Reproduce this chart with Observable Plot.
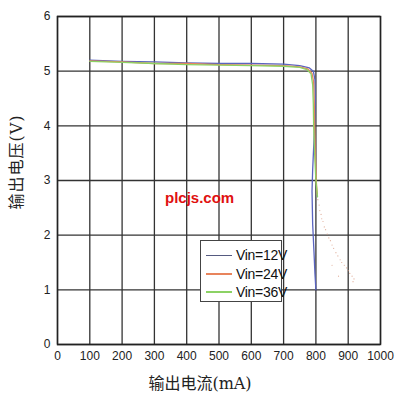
<!DOCTYPE html>
<html><head><meta charset="utf-8">
<script src="https://cdn.jsdelivr.net/npm/d3@7"></script>
<script src="https://cdn.jsdelivr.net/npm/@observablehq/plot@0.6"></script>
<style>
body{margin:0;background:#fff;}
#wrap{position:relative;width:400px;height:399px;}
.lbl{position:absolute;font-family:"DejaVu Serif","Noto Sans CJK SC",serif;font-size:16px;color:#222;white-space:nowrap;}
#legend{position:absolute;left:200px;top:240px;width:82px;height:62px;border:1px solid #444;background:#fff;box-sizing:border-box;}
.li{position:absolute;left:5px;height:20px;display:flex;align-items:center;font-family:"Liberation Sans Narrow","Liberation Sans",Arial,sans-serif;font-size:14px;color:#111;letter-spacing:-0.3px;}
.li span.sw{display:inline-block;width:26px;margin-right:4px;}
#wm{position:absolute;left:165px;top:189px;font-family:"Liberation Sans",Arial,sans-serif;font-weight:bold;font-size:15px;color:#e01010;}
</style></head>
<body><div id="wrap"></div>
<script>
const xTicks = [0,100,200,300,400,500,600,700,800,900,1000];
const yTicks = [0,1,2,3,4,5,6];
const seriesNames = ["Vin=12V","Vin=24V","Vin=36V"];
const seriesColors = ["#5a64c0","#e8845c","#8cd264"];
// series 12V (blue)
const i12 = [100,200,300,400,500,600,700,750,780,792,797,798,796,793,790,788,790,794,797,800];
const v12 = [5.20,5.18,5.17,5.15,5.14,5.14,5.13,5.10,5.06,5.00,4.85,4.50,4.00,3.60,3.20,2.80,2.20,1.70,1.30,1.00];
// series 24V (orange)
const i24 = [100,200,300,400,500,600,700,750,775,788,793,795,796,798,801,804];
const v24 = [5.19,5.17,5.14,5.14,5.12,5.11,5.10,5.08,5.04,4.96,4.80,4.40,4.00,3.50,3.00,2.75];
// series 36V (green)
const i36 = [100,200,300,400,500,600,700,750,772,785,790,792,793,796,800,805];
const v36 = [5.18,5.16,5.14,5.12,5.11,5.10,5.09,5.07,5.03,4.95,4.75,4.40,4.00,3.50,3.00,2.70];
// scattered trailing points (faint)
const iDots = [806,810,812,816,818,822,826,830,835,840,845,850,855,862,868,875,880,888,895,900,905,912,918,850,870,915];
const vDots = [2.65,2.55,2.45,2.38,2.30,2.25,2.15,2.10,2.02,1.95,1.90,1.82,1.76,1.68,1.62,1.55,1.50,1.45,1.40,1.35,1.30,1.25,1.20,1.45,1.25,1.15];

const rows = [];
[[i12,v12],[i24,v24],[i36,v36]].forEach(([xs,vs],k)=>xs.forEach((x,j)=>rows.push({s:seriesNames[k],x,y:vs[j]})));
const dots = iDots.map((x,j)=>({x,y:vDots[j]}));

const chart = Plot.plot({
  width:400, height:399,
  marginLeft:57, marginRight:20, marginTop:16, marginBottom:55,
  style:{fontFamily:'"Liberation Sans Narrow","Liberation Sans",Arial,sans-serif',fontSize:"12px",color:"#222",background:"#fff"},
  x:{domain:[0,1000],label:null},
  y:{domain:[0,6],label:null},
  color:{domain:seriesNames,range:seriesColors},
  marks:[
    Plot.gridX(xTicks,{stroke:"#333",strokeOpacity:1,strokeWidth:1.3}),
    Plot.gridY(yTicks,{stroke:"#333",strokeOpacity:1,strokeWidth:1.3}),
    Plot.frame({stroke:"#222",strokeWidth:1.5}),
    Plot.dot(dots,{x:"x",y:"y",r:0.6,fill:"#d89880",stroke:null,fillOpacity:0.8}),
    Plot.line(rows,{x:"x",y:"y",z:"s",stroke:"s",strokeWidth:1.3,curve:"linear"}),
    Plot.axisX({ticks:xTicks,tickSize:0,tickPadding:7,tickFormat:d=>String(d),label:null}),
    Plot.axisY({ticks:yTicks,tickSize:0,tickPadding:7,tickFormat:d=>String(d),label:null})
  ]
});
const wrap = document.getElementById("wrap");
wrap.appendChild(chart);

const yl = document.createElement("div");
yl.className="lbl"; yl.textContent="输出电压(V)";
yl.style.left="15px"; yl.style.top="162px"; yl.style.letterSpacing="1px";
yl.style.transform="translate(-50%,-50%) rotate(-90deg)";
wrap.appendChild(yl);
const xl = document.createElement("div");
xl.className="lbl"; xl.textContent="输出电流(mA)";
xl.style.left="200px"; xl.style.top="382px";
xl.style.transform="translate(-50%,-50%)";
wrap.appendChild(xl);

const wm = document.createElement("div");
wm.id="wm"; wm.textContent="plcjs.com"; wrap.appendChild(wm);

const lg = document.createElement("div"); lg.id="legend";
const legendColors = ["#555a80","#e8845c","#8cd264"];
seriesNames.forEach((n,k)=>{
  const d=document.createElement("div"); d.className="li";
  d.style.top=(4+k*18.5)+"px";
  d.innerHTML=`<span class="sw" style="border-top:${k===0?1:2}px solid ${legendColors[k]}"></span>${n}`;
  lg.appendChild(d);
});
wrap.appendChild(lg);
</script></body></html>
